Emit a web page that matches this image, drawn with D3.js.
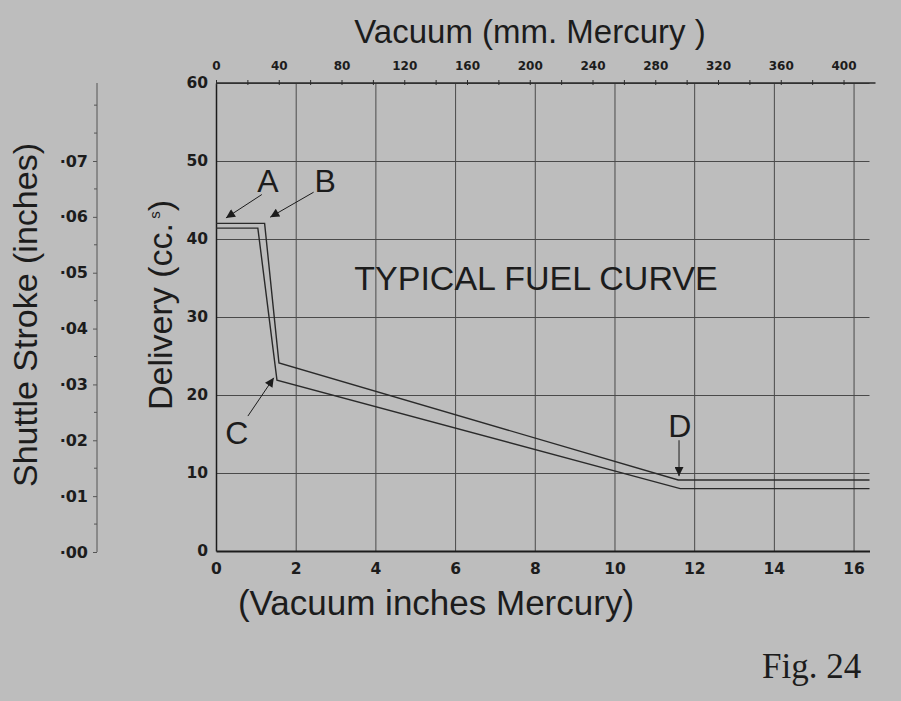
<!DOCTYPE html>
<html>
<head>
<meta charset="utf-8">
<script src="https://cdn.jsdelivr.net/npm/d3@7"></script>
<style>
  html, body { margin: 0; padding: 0; background: #bdbdbd; }
  svg { display: block; }
  .grid line { stroke: #4a4a4a; stroke-width: 1; }
  .grid .domain { display: none; }
  .tick-label { font-family: 'DejaVu Sans', sans-serif; font-weight: bold; fill: #1c1c1c; }
  .label { font-family: 'Liberation Sans', Arial, sans-serif; fill: #1c1c1c; }
</style>
</head>
<body>
<div id="chart"></div>
<script>
// Delivery curves (x = vacuum inches Hg, y = delivery cc)
const upperCurve = [[0, 42.0], [1.22, 42.0], [1.58, 24.1], [11.6, 9.1], [16.4, 9.1]];
const lowerCurve = [[0, 41.4], [1.05, 41.4], [1.53, 21.9], [11.65, 8.0], [16.4, 8.0]];

// Tick values
const inchTicks = [0, 2, 4, 6, 8, 10, 12, 14, 16];
const deliveryTicks = [0, 10, 20, 30, 40, 50, 60];
const mmTicks = d3.range(0, 420, 20);
const mmLabels = [0, 40, 80, 120, 160, 200, 240, 280, 320, 360, 400];
const strokeTicks = [0, 0.01, 0.02, 0.03, 0.04, 0.05, 0.06, 0.07];
const strokeMinor = [0.005, 0.015, 0.025, 0.035, 0.045, 0.055, 0.065, 0.075, 0.08];

// Annotation letters and their arrows, in data units
const notes = [
  { name: 'A', label: [1.3, 47.6], from: [1.15, 45.7], to: [0.25, 42.7] },
  { name: 'B', label: [2.74, 47.6], from: [2.45, 46.0], to: [1.36, 42.8] },
  { name: 'C', label: [0.52, 15.3], from: [0.8, 17.3], to: [1.45, 22.2] },
  { name: 'D', label: [11.64, 16.2], from: [11.62, 14.2], to: [11.62, 9.6] }
];

const width = 901;
const height = 701;

const svg = d3.select('#chart')
  .append('svg')
  .attr('width', width)
  .attr('height', height);

svg.append('rect').attr('width', width).attr('height', height).attr('fill', '#bdbdbd');

// Scales
const x = d3.scaleLinear().domain([0, 16.4]).range([216, 869.5]);
const y = d3.scaleLinear().domain([0, 60]).range([551, 83]);
const xMm = d3.scaleLinear().domain([0, 16.4 * 25.4]).range([216, 869.5]);
const yStroke = d3.scaleLinear().domain([0, 0.07]).range([552, 161]);

// Arrow marker
svg.append('defs')
  .append('marker')
  .attr('id', 'arrow')
  .attr('viewBox', '0 0 10 10')
  .attr('refX', 10)
  .attr('refY', 5)
  .attr('markerWidth', 12)
  .attr('markerHeight', 9)
  .attr('markerUnits', 'userSpaceOnUse')
  .attr('orient', 'auto')
  .append('path')
  .attr('d', 'M0,0 L10,5 L0,10 Z')
  .attr('fill', '#1c1c1c');

// Horizontal gridlines
svg.append('g')
  .attr('class', 'grid')
  .attr('transform', `translate(${x(0)},0)`)
  .call(d3.axisLeft(y).tickValues(deliveryTicks.slice(1)).tickSize(-(x.range()[1] - x(0))).tickFormat(''));

// Vertical gridlines
svg.append('g')
  .attr('class', 'grid')
  .attr('transform', `translate(0,${y(0)})`)
  .call(d3.axisBottom(x).tickValues(inchTicks.slice(1)).tickSize(-(y(0) - y(60))).tickFormat(''));

// Left delivery axis
const yAxis = svg.append('g')
  .attr('transform', `translate(${x(0)},0)`)
  .call(d3.axisLeft(y).tickValues(deliveryTicks).tickSize(0).tickPadding(8));
yAxis.select('.domain').attr('stroke', '#1c1c1c').attr('stroke-width', 1.5);
yAxis.selectAll('text').attr('class', 'tick-label').style('font-size', '15.5px');

// Bottom inches axis
const xAxis = svg.append('g')
  .attr('transform', `translate(0,${y(0)})`)
  .call(d3.axisBottom(x).tickValues(inchTicks).tickSize(0).tickPadding(12));
xAxis.select('.domain').attr('stroke', '#1c1c1c').attr('stroke-width', 2);
xAxis.selectAll('text').attr('class', 'tick-label').style('font-size', '15.5px');

// Top mm axis (shares the 60 line)
const topAxis = svg.append('g')
  .attr('transform', `translate(0,${y(60)})`)
  .call(d3.axisTop(xMm).tickValues(mmTicks).tickSize(4).tickPadding(9)
    .tickFormat((d) => (mmLabels.includes(d) ? d : '')));
topAxis.select('.domain').attr('stroke', '#2a2a2a').attr('stroke-width', 1.3)
  .attr('d', `M${x(0)},0H${x.range()[1] + 6}`);
topAxis.selectAll('line').attr('stroke', '#2a2a2a').attr('y2', -3).attr('y1', 2);
topAxis.selectAll('text').attr('class', 'tick-label').style('font-size', '12px');

// Shuttle stroke axis
const strokeAxis = svg.append('g')
  .attr('transform', 'translate(97,0)')
  .call(d3.axisLeft(yStroke).tickValues(strokeTicks).tickSize(4).tickPadding(5)
    .tickFormat((d) => '·' + d3.format('.2f')(d).slice(2)));
strokeAxis.select('.domain').attr('stroke', '#555').attr('d', `M0,${yStroke(0)}V${y(60)}`);
strokeAxis.selectAll('line').attr('stroke', '#555');
strokeAxis.selectAll('text').attr('class', 'tick-label').style('font-size', '16px');

svg.append('g')
  .selectAll('line')
  .data(strokeMinor)
  .enter()
  .append('line')
  .attr('x1', 94)
  .attr('x2', 97)
  .attr('y1', (d) => yStroke(d))
  .attr('y2', (d) => yStroke(d))
  .attr('stroke', '#555');

// Curves
const line = d3.line().x((d) => x(d[0])).y((d) => y(d[1]));

svg.append('g')
  .selectAll('path')
  .data([upperCurve, lowerCurve])
  .enter()
  .append('path')
  .attr('d', line)
  .attr('fill', 'none')
  .attr('stroke', '#2a2a2a')
  .attr('stroke-width', 1.4);

// Annotations
const ann = svg.append('g');
ann.selectAll('line')
  .data(notes)
  .enter()
  .append('line')
  .attr('x1', (d) => x(d.from[0]))
  .attr('y1', (d) => y(d.from[1]))
  .attr('x2', (d) => x(d.to[0]))
  .attr('y2', (d) => y(d.to[1]))
  .attr('stroke', '#1c1c1c')
  .attr('stroke-width', 1)
  .attr('marker-end', 'url(#arrow)');

ann.selectAll('text')
  .data(notes)
  .enter()
  .append('text')
  .attr('class', 'label')
  .attr('x', (d) => x(d.label[0]))
  .attr('y', (d) => y(d.label[1]) + 12)
  .attr('text-anchor', 'middle')
  .style('font-size', '32px')
  .text((d) => d.name);

// Titles
svg.append('text')
  .attr('class', 'label')
  .attr('x', 530)
  .attr('y', 43)
  .attr('text-anchor', 'middle')
  .style('font-size', '33px')
  .text('Vacuum (mm. Mercury )');

svg.append('text')
  .attr('class', 'label')
  .attr('x', 536)
  .attr('y', 290)
  .attr('text-anchor', 'middle')
  .style('font-size', '34px')
  .text('TYPICAL FUEL CURVE');

svg.append('text')
  .attr('class', 'label')
  .attr('x', 436)
  .attr('y', 615)
  .attr('text-anchor', 'middle')
  .style('font-size', '35px')
  .text('(Vacuum inches Mercury)');

const deliveryLabel = svg.append('text')
  .attr('class', 'label')
  .attr('transform', 'translate(172,305) rotate(-90)')
  .attr('text-anchor', 'middle')
  .style('font-size', '34px');
deliveryLabel.append('tspan').text('Delivery (cc.');
deliveryLabel.append('tspan').attr('dy', -12).style('font-size', '15px').text(' s');
deliveryLabel.append('tspan').attr('dy', 12).text(')');

svg.append('text')
  .attr('class', 'label')
  .attr('transform', 'translate(37,315) rotate(-90)')
  .attr('text-anchor', 'middle')
  .style('font-size', '34px')
  .text('Shuttle Stroke (inches)');

svg.append('text')
  .attr('x', 762)
  .attr('y', 678)
  .style('font-family', "'Liberation Serif', 'Times New Roman', serif")
  .style('font-size', '35px')
  .attr('fill', '#1c1c1c')
  .text('Fig. 24');
</script>
</body>
</html>
